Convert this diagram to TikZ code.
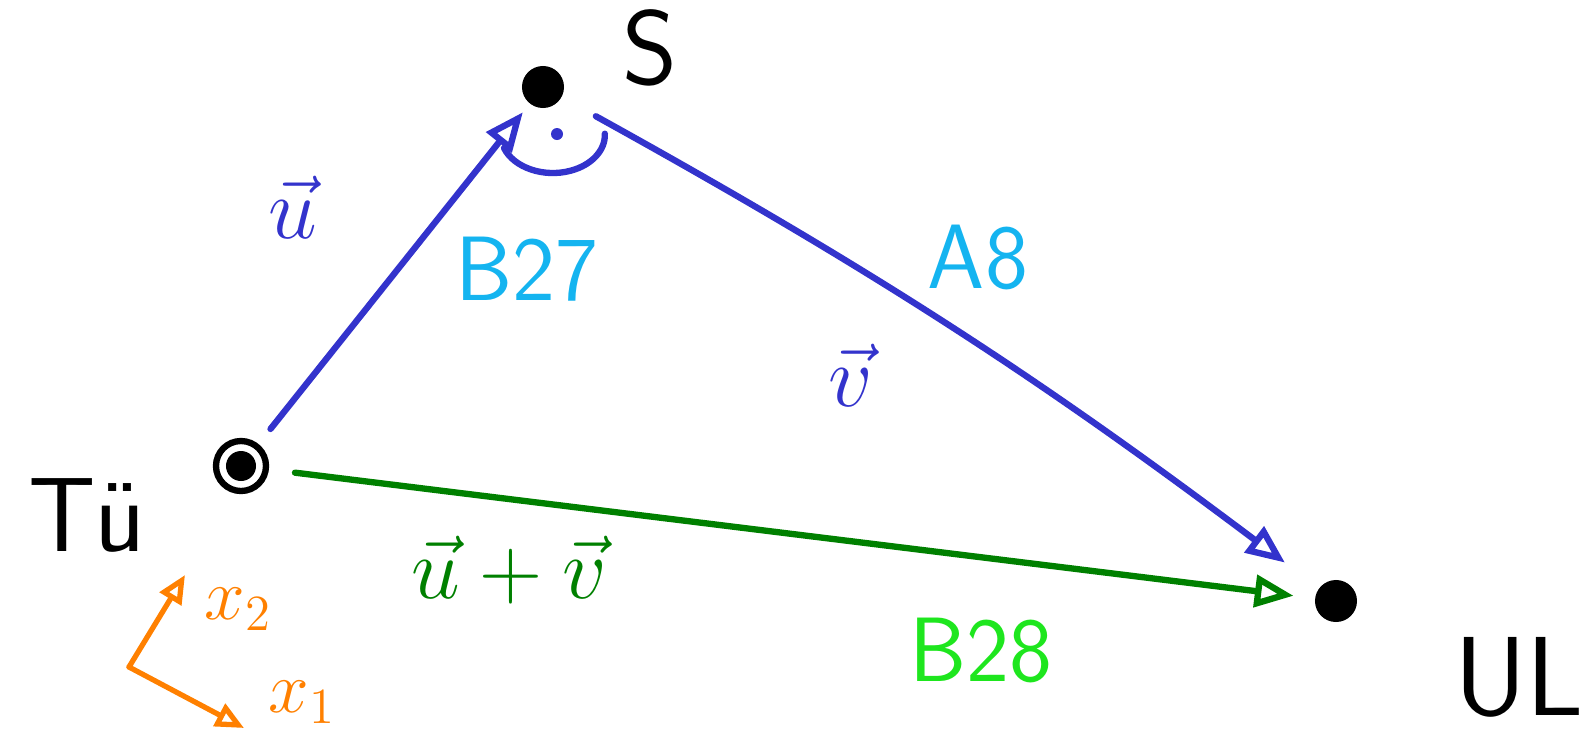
\documentclass[tikz,border=0pt]{standalone}
\usepackage{amsmath}
\usetikzlibrary{arrows.meta,calc}
\definecolor{vecblau}{RGB}{51,51,204}
\definecolor{strcyan}{RGB}{20,180,240}
\definecolor{vecgruen}{RGB}{0,128,0}
\definecolor{strgruen}{RGB}{30,230,30}
\definecolor{achsorange}{RGB}{255,128,0}
\tikzset{
  punkt/.style={circle, fill=black, inner sep=0pt, minimum size=0.42cm},
  ortname/.style={font=\sffamily\fontsize{30}{34}\selectfont},
  strasse/.style={font=\sffamily\fontsize{26}{30}\selectfont},
  veclabel/.style={font=\fontsize{28}{32}\selectfont},
  vecpfeil/.style={line width=1.8pt, line cap=round, -{Triangle[open, length=11pt, width=9pt]}},
  achse/.style={achsorange, line width=1.5pt, line cap=round, -{Triangle[open, length=8pt, width=7pt]}},
}

\begin{document}
\begin{tikzpicture}[x=0.01cm, y=0.01cm]
  \useasboundingbox (0,0) rectangle (1596,747);
  % Orte
  \node[punkt, minimum size=0.3cm] (tue) at (241,281) {};
  \draw[line width=1.8pt] (tue.center) circle (25);
  \node[punkt] (stgt) at (543,660) {};
  \node[punkt] (ulm) at (1336,146) {};
  \node[ortname] (tuename) at (87,232) {Tü};
  \node[ortname] (stgtname) at (650,699) {S};
  \node[ortname, font=\sffamily\fontsize{32}{36}\selectfont] (ulmname) at (1519,70) {UL};

  % Vektoren
  \draw[vecpfeil, vecblau, shorten <=9pt, shorten >=3pt] (tue) -- (stgt);
  \draw[vecpfeil, vecblau, shorten <=11pt, shorten >=12pt] (stgt) to[bend left=4] (ulm);
  \draw[vecpfeil, vecgruen, shorten <=11pt, shorten >=6pt] (tue) -- (ulm);

  % Winkel bei S
  \draw[vecblau, line width=1.8pt, line cap=round] ($(stgt)+(-39,-61)$) arc[start angle=200, end angle=362, x radius=52, y radius=38];
  \fill[vecblau] ($(stgt)+(14,-47)$) circle (6);

  % Beschriftungen
  \node[veclabel, vecblau] (ulabel) at (293,540) {$\vec{u}$};
  \node[veclabel, vecblau] (vlabel) at (851,372) {$\vec{v}$};
  \node[veclabel, vecgruen] (uvlabel) at (509,177) {$\vec{u}+\vec{v}$};
  \node[strasse, strcyan] (bsiebenundzwanzig) at (527,478) {B27};
  \node[strasse, strcyan] (aacht) at (978,490) {A8};
  \node[strasse, strgruen] (bachtundzwanzig) at (981,97) {B28};

  % Achsen
  \coordinate (ursprung) at (129,80);
  \coordinate (xzwei) at (185,172);
  \coordinate (xeins) at (244,19);
  \draw[achse] (ursprung) -- (xzwei);
  \draw[achse] (ursprung) -- (xeins);
  \node[achsorange, font=\fontsize{22}{26}\selectfont] (xzweiname) at (238,138) {$x_2$};
  \node[achsorange, font=\fontsize{22}{26}\selectfont] (xeinsname) at (302,45) {$x_1$};
\end{tikzpicture}
\end{document}
